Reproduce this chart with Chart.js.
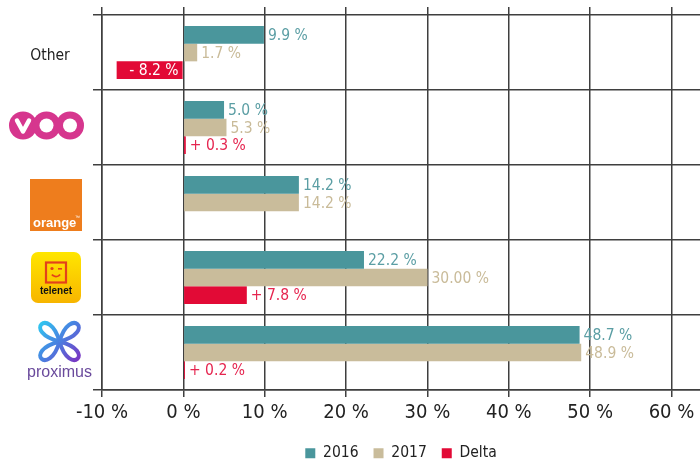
<!DOCTYPE html>
<html>
<head>
<meta charset="utf-8">
<script src="https://cdn.jsdelivr.net/npm/chart.js@4/dist/chart.umd.min.js"></script>
<style>
  html, body { margin: 0; padding: 0; background: #fff; }
  canvas { display: block; }
</style>
</head>
<body>
<canvas id="chart" width="700" height="459"></canvas>
<script>
// --- data ---
const categories = ['Other', 'VOO', 'Orange', 'Telenet', 'Proximus'];
const share2016 = [9.9, 5.0, 14.2, 22.2, 48.7];
const share2017 = [1.7, 5.3, 14.2, 30.0, 48.9];
const delta = [-8.2, 0.3, 0, 7.8, 0.2];
const labels2016 = ['9.9 %', '5.0 %', '14.2 %', '22.2 %', '48.7 %'];
const labels2017 = ['1.7 %', '5.3 %', '14.2 %', '30.00 %', '48.9 %'];
const labelsDelta = ['- 8.2 %', '+ 0.3 %', '', '+ 7.8 %', '+ 0.2 %'];
const seriesNames = ['2016', '2017', 'Delta'];
const xMin = -10, xMax = 63.5, xStep = 10;

const FONT = "'Liberation Sans Narrow', 'DejaVu Sans Condensed', 'Arial Narrow', sans-serif";
const GRID = '#3f3f3f';
const PLOT_BOTTOM = 390;   // where the plot area should end
const barColors = ['#4a969c', '#c9bc9b', '#e20a36'];
const labelColors = ['#5b9ea4', '#c9bb99', '#e5254f'];
const valueLabels = [labels2016, labels2017, labelsDelta];

// --- logo drawings for the category axis ---
function drawOther(ctx, x, y) {
    ctx.fillStyle = '#222';
    ctx.font = `15.5px ${FONT}`;
    ctx.textAlign = 'center';
    ctx.textBaseline = 'middle';
    ctx.fillText('Other', x, y + 3.5);
}

function drawVoo(ctx, x, y) {
    const cx = x - 3.5, cy = y - 2, r = 14, step = 23.5;
    ctx.fillStyle = '#d6368e';
    [-1, 0, 1].forEach(k => {
        ctx.beginPath();
        ctx.arc(cx + k * step, cy, r, 0, Math.PI * 2);
        ctx.fill();
    });
    ctx.fillStyle = '#fff';
    [0, 1].forEach(k => {
        ctx.beginPath();
        ctx.arc(cx + k * step, cy, 7, 0, Math.PI * 2);
        ctx.fill();
    });
    ctx.strokeStyle = '#fff';
    ctx.lineWidth = 4.5;
    ctx.lineJoin = 'round';
    ctx.lineCap = 'round';
    ctx.beginPath();
    ctx.moveTo(cx - step - 6, cy - 5);
    ctx.lineTo(cx - step, cy + 6);
    ctx.lineTo(cx - step + 6, cy - 5);
    ctx.stroke();
}

function drawOrange(ctx, x, y) {
    const cx = x + 6, cy = y + 2.5, s = 52;
    ctx.fillStyle = '#ee7d1d';
    ctx.fillRect(cx - s / 2, cy - s / 2, s, s);
    ctx.fillStyle = '#fff';
    ctx.font = "bold 13px 'Liberation Sans', sans-serif";
    ctx.textAlign = 'left';
    ctx.textBaseline = 'alphabetic';
    ctx.fillText('orange', cx - s / 2 + 3, cy + s / 2 - 4);
    ctx.font = "5px 'Liberation Sans', sans-serif";
    ctx.fillText('™', cx + 19, cy + 14);
}

function drawTelenet(ctx, x, y) {
    const cx = x + 6, cy = y, w = 50, h = 51;
    const g = ctx.createLinearGradient(0, cy - h / 2, 0, cy + h / 2);
    g.addColorStop(0, '#ffe600');
    g.addColorStop(1, '#f7b500');
    ctx.fillStyle = g;
    ctx.beginPath();
    ctx.roundRect(cx - w / 2, cy - h / 2, w, h, 7);
    ctx.fill();
    // face
    ctx.strokeStyle = '#e3411b';
    ctx.lineWidth = 2.2;
    ctx.strokeRect(cx - 10, cy - 15, 20, 20);
    ctx.fillStyle = '#e3411b';
    ctx.beginPath(); ctx.arc(cx - 4, cy - 9, 1.6, 0, Math.PI * 2); ctx.fill();
    ctx.fillRect(cx + 2, cy - 9.5, 4, 1.6);
    ctx.lineWidth = 1.8;
    ctx.beginPath(); ctx.arc(cx, cy - 6, 5, 0.2 * Math.PI, 0.8 * Math.PI); ctx.stroke();
    ctx.fillStyle = '#111';
    ctx.font = "bold 10px 'Liberation Sans', sans-serif";
    ctx.textAlign = 'center';
    ctx.textBaseline = 'alphabetic';
    ctx.fillText('telenet', cx, cy + 16);
}

function drawProximus(ctx, x, y) {
    const cx = x + 9.5, cy = y - 11;
    const g = ctx.createLinearGradient(cx - 20, cy - 18, cx + 20, cy + 18);
    g.addColorStop(0, '#2fc6f0');
    g.addColorStop(0.5, '#4a7fe0');
    g.addColorStop(1, '#7a34c2');
    ctx.strokeStyle = g;
    ctx.lineWidth = 4;
    [[-1, -1], [1, -1], [-1, 1], [1, 1]].forEach(([sx, sy]) => {
        ctx.beginPath();
        ctx.moveTo(cx, cy);
        ctx.bezierCurveTo(cx + sx * 38, cy + sy * 10, cx + sx * 10, cy + sy * 36, cx, cy);
        ctx.stroke();
    });
    ctx.fillStyle = '#6a4a9c';
    ctx.font = "16px 'Liberation Sans', sans-serif";
    ctx.textAlign = 'center';
    ctx.textBaseline = 'alphabetic';
    ctx.fillText('proximus', cx, y + 24.5);
}

const logoDrawers = [drawOther, drawVoo, drawOrange, drawTelenet, drawProximus];

// Draws the category labels / logos left of the plot
const logoPlugin = {
    id: 'logos',
    afterDraw(chart) {
        const ctx = chart.ctx;
        const yScale = chart.scales.y;
        const xCenter = yScale.left + 50;
        categories.forEach((c, i) => {
            ctx.save();
            logoDrawers[i](ctx, xCenter, yScale.getPixelForValue(i));
            ctx.restore();
        });
    }
};

// Writes the value next to (or inside) each bar
const valueLabelPlugin = {
    id: 'valueLabels',
    afterDatasetsDraw(chart) {
        const ctx = chart.ctx;
        ctx.save();
        ctx.font = `15.5px ${FONT}`;
        ctx.textBaseline = 'middle';
        chart.data.datasets.forEach((ds, i) => {
            chart.getDatasetMeta(i).data.forEach((bar, j) => {
                const text = valueLabels[i][j];
                if (!text) return;
                if (ds.data[j] < 0) {
                    ctx.fillStyle = '#fff';
                    ctx.textAlign = 'right';
                    ctx.fillText(text, bar.base - 4, bar.y + 1);
                } else {
                    ctx.fillStyle = labelColors[i];
                    ctx.textAlign = 'left';
                    ctx.fillText(text, bar.x + 4, bar.y + 1);
                }
            });
        });
        ctx.restore();
    }
};

// Centre the legend under the plot area and push it down to the bottom edge
const legendPlacePlugin = {
    id: 'legendPlace',
    afterLayout(chart) {
        const lg = chart.legend;
        lg.left = chart.chartArea.left;
        lg.right = chart.chartArea.right;
        lg.top += 12;
        lg.bottom += 12;
    }
};

new Chart(document.getElementById('chart'), {
    type: 'bar',
    data: {
        labels: categories,
        datasets: [share2016, share2017, delta].map((d, i) => ({
            label: seriesNames[i],
            data: d,
            backgroundColor: barColors[i],
            borderWidth: 0,
            categoryPercentage: 0.707,
            barPercentage: 1.0
        }))
    },
    options: {
        indexAxis: 'y',
        responsive: false,
        animation: false,
        layout: { padding: { top: 7, left: 0, right: 0, bottom: 0 } },
        plugins: {
            tooltip: { enabled: false },
            legend: {
                position: 'bottom',
                labels: {
                    boxWidth: 10,
                    boxHeight: 10,
                    padding: 15,
                    color: '#222',
                    font: { family: FONT, size: 15.5 }
                }
            }
        },
        scales: {
            x: {
                type: 'linear',
                min: xMin,
                max: xMax,
                ticks: {
                    stepSize: xStep,
                    includeBounds: false,
                    color: '#222',
                    padding: 4,
                    font: { family: FONT, size: 20 },
                    callback: v => v + ' %'
                },
                grid: { color: GRID, lineWidth: 1.5, tickLength: 7 },
                border: { color: GRID, width: 1.5 },
                afterFit: s => {
                    const lg = s.chart.legend;
                    s.height = s.chart.height - PLOT_BOTTOM - (lg ? lg.height : 0);
                }
            },
            xTop: {
                type: 'linear',
                position: 'top',
                min: xMin,
                max: xMax,
                ticks: { stepSize: xStep, includeBounds: false, display: false },
                grid: { drawOnChartArea: false, color: GRID, lineWidth: 1.5, tickLength: 8 },
                border: { display: false },
                afterFit: s => { s.height = 8; }
            },
            y: {
                type: 'category',
                ticks: { display: false },
                grid: { offset: true, color: GRID, lineWidth: 1.5, tickLength: 9 },
                border: { color: GRID, width: 1.5 },
                afterFit: s => { s.width = 102; }
            }
        }
    },
    plugins: [logoPlugin, valueLabelPlugin, legendPlacePlugin]
});
</script>
</body>
</html>
